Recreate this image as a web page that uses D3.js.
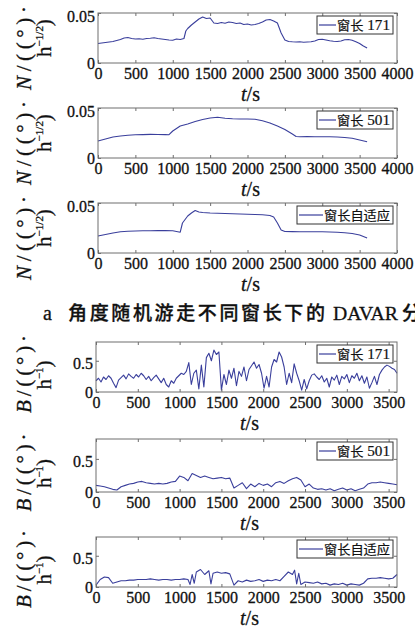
<!DOCTYPE html>
<html><head><meta charset="utf-8">
<script src="https://cdn.jsdelivr.net/npm/d3@7"></script>
<style>body{margin:0;background:#fff}svg{display:block}
.sf{font-family:"Liberation Serif","DejaVu Serif",serif}
.cj{font-family:"Noto Sans CJK SC","Noto Sans CJK JP",sans-serif}
text{stroke:#111;stroke-width:0.3px}
</style>
</head><body><svg id="c" width="415" height="628"></svg>
<script>
// ---------------- data ----------------
const xTicksN = [0,500,1000,1500,2000,2500,3000,3500,4000];
const xTicksB = [0,500,1000,1500,2000,2500,3000,3500];
const yTicksN = [0,0.05];
const yTickLabelsN = ["0","0.05"];
const yTicksB = [0,0.5];
const yTickLabelsB = ["0","0.5"];
const legendLabels = ["窗长 171","窗长 501","窗长自适应"];
const xLabel = "t/s";
const caption = ["a","角度随机游走不同窗长下的","DAVAR","分"];

// angle random walk N, window 171  [t (s), value]
const n171 = [[0,.0195],[50,.0200],[100,.0205],[150,.0210],[200,.0215],[250,.0225],[300,.0235],[350,.0250],[400,.0255],[450,.0245],[500,.0240],[550,.0242],[600,.0238],[650,.0245],[700,.0248],[750,.0252],[800,.0245],[850,.0240],[900,.0235],[950,.0230],[1000,.0228],[1050,.0240],[1100,.0235],[1150,.0245],[1175,.0320],[1200,.0345],[1250,.0380],[1300,.0410],[1350,.0440],[1400,.0460],[1450,.0445],[1500,.0450],[1550,.0400],[1600,.0395],[1650,.0405],[1700,.0398],[1750,.0410],[1800,.0405],[1850,.0395],[1900,.0400],[1950,.0385],[2000,.0390],[2050,.0380],[2100,.0385],[2150,.0395],[2200,.0410],[2250,.0430],[2300,.0435],[2350,.0420],[2400,.0400],[2450,.0300],[2500,.0230],[2550,.0215],[2600,.0212],[2650,.0210],[2700,.0212],[2750,.0208],[2800,.0210],[2850,.0212],[2900,.0220],[2950,.0235],[3000,.0238],[3050,.0230],[3100,.0222],[3150,.0218],[3200,.0215],[3250,.0220],[3300,.0232],[3350,.0235],[3400,.0228],[3450,.0212],[3500,.0195],[3550,.0170],[3600,.0150]];
// N, window 501
const n501 = [[0,.0170],[100,.0190],[200,.0210],[300,.0220],[400,.0228],[500,.0232],[600,.0234],[700,.0236],[800,.0235],[900,.0234],[950,.0233],[1000,.0270],[1100,.0320],[1200,.0340],[1300,.0365],[1400,.0385],[1500,.0400],[1600,.0408],[1700,.0398],[1800,.0392],[1900,.0390],[2000,.0390],[2100,.0388],[2200,.0372],[2300,.0350],[2400,.0320],[2500,.0285],[2600,.0240],[2650,.0215],[2700,.0213],[2800,.0214],[2900,.0213],[3000,.0213],[3100,.0212],[3200,.0210],[3300,.0205],[3400,.0197],[3500,.0180],[3600,.0163]];
// N, adaptive window
const nAdapt = [[0,.0170],[100,.0185],[200,.0200],[300,.0212],[400,.0218],[500,.0220],[600,.0222],[700,.0223],[800,.0224],[900,.0224],[1000,.0222],[1100,.0208],[1130,.0300],[1200,.0370],[1250,.0400],[1300,.0425],[1350,.0410],[1400,.0405],[1500,.0400],[1600,.0398],[1700,.0395],[1800,.0393],[1900,.0390],[2000,.0388],[2100,.0385],[2200,.0382],[2300,.0375],[2350,.0360],[2400,.0300],[2450,.0230],[2500,.0215],[2600,.0214],[2700,.0213],[2800,.0213],[2900,.0212],[3000,.0212],[3100,.0210],[3200,.0207],[3300,.0203],[3400,.0195],[3500,.0180],[3600,.0150]];
// rate random walk B, window 171
const b171 = [[0,.18],[30,.22],[60,.16],[90,.24],[120,.20],[150,.26],[180,.22],[210,.14],[240,.07],[270,.19],[300,.23],[330,.27],[360,.21],[390,.29],[420,.25],[450,.22],[480,.28],[510,.24],[540,.30],[570,.26],[600,.20],[630,.25],[660,.18],[690,.23],[720,.27],[750,.21],[780,.15],[810,.22],[840,.12],[870,.08],[900,.18],[930,.14],[960,.22],[990,.26],[1020,.30],[1050,.28],[1080,.33],[1110,.47],[1140,.12],[1170,.30],[1200,.35],[1230,.05],[1260,.43],[1290,.08],[1320,.55],[1350,.62],[1380,.50],[1410,.67],[1440,.60],[1470,.64],[1500,.03],[1530,.28],[1560,.12],[1590,.35],[1620,.22],[1650,.38],[1680,.10],[1710,.33],[1740,.25],[1770,.40],[1800,.18],[1830,.36],[1860,.42],[1890,.48],[1920,.38],[1950,.44],[1980,.30],[2010,.06],[2040,.25],[2070,.08],[2100,.40],[2130,.52],[2160,.48],[2190,.64],[2220,.56],[2250,.40],[2280,.12],[2310,.30],[2340,.15],[2370,.45],[2400,.30],[2430,.18],[2460,.03],[2490,.20],[2520,.05],[2550,.18],[2580,.27],[2610,.29],[2640,.24],[2670,.20],[2700,.26],[2730,.16],[2760,.22],[2790,.08],[2820,.24],[2850,.19],[2880,.27],[2910,.12],[2940,.25],[2970,.21],[3000,.28],[3030,.15],[3060,.26],[3090,.22],[3120,.30],[3150,.18],[3180,.26],[3210,.14],[3240,.24],[3270,.06],[3300,.15],[3330,.25],[3360,.12],[3390,.28],[3420,.35],[3450,.40],[3480,.43],[3510,.41],[3540,.38],[3570,.36],[3600,.30]];
// B, window 501
const b501 = [[0,.10],[50,.09],[100,.08],[150,.06],[200,.04],[250,.03],[300,.08],[350,.10],[400,.12],[450,.13],[500,.15],[550,.16],[600,.14],[650,.13],[700,.12],[750,.13],[800,.12],[850,.13],[900,.15],[950,.16],[1000,.24],[1050,.22],[1100,.17],[1150,.28],[1200,.25],[1250,.22],[1300,.24],[1350,.22],[1400,.20],[1450,.21],[1500,.22],[1550,.20],[1600,.21],[1650,.06],[1700,.10],[1750,.14],[1800,.05],[1850,.12],[1900,.08],[1950,.13],[2000,.10],[2050,.12],[2100,.08],[2150,.14],[2200,.16],[2250,.13],[2300,.17],[2350,.20],[2400,.22],[2450,.18],[2500,.08],[2550,.12],[2600,.06],[2650,.04],[2700,.05],[2750,.03],[2800,.05],[2850,.02],[2900,.04],[2950,.06],[3000,.03],[3050,.05],[3100,.02],[3150,.04],[3200,.06],[3250,.12],[3300,.14],[3350,.14],[3400,.15],[3450,.14],[3500,.13],[3550,.12],[3600,.11]];
// B, adaptive window
const bAdapt = [[0,.03],[50,.12],[100,.16],[150,.15],[200,.06],[250,.08],[300,.10],[350,.10],[400,.11],[450,.11],[500,.12],[550,.12],[600,.12],[650,.13],[700,.12],[750,.11],[800,.12],[850,.12],[900,.11],[950,.12],[1000,.12],[1050,.13],[1100,.12],[1125,.04],[1150,.20],[1175,.06],[1200,.24],[1250,.28],[1300,.20],[1350,.26],[1375,.05],[1400,.22],[1450,.24],[1500,.22],[1550,.23],[1600,.21],[1650,.03],[1700,.10],[1750,.08],[1800,.11],[1850,.09],[1900,.10],[1950,.12],[2000,.09],[2050,.11],[2100,.10],[2150,.12],[2200,.10],[2250,.17],[2300,.24],[2350,.20],[2375,.27],[2400,.05],[2425,.22],[2450,.04],[2500,.08],[2550,.07],[2600,.06],[2650,.08],[2700,.05],[2750,.06],[2800,.03],[2850,.05],[2900,.04],[2950,.06],[3000,.03],[3050,.05],[3100,.04],[3150,.03],[3200,.06],[3250,.13],[3300,.14],[3350,.14],[3400,.15],[3450,.14],[3500,.13],[3550,.14],[3600,.20]];

// ---------------- layout ----------------
const lineColor = "#3a3f9c";
const axisColor = "#6e6e6e";

const panels = [
  {data:n171, kind:"N", legend:0, top:13,  bottom:63,  left:98, right:397},
  {data:n501, kind:"N", legend:1, top:108, bottom:158, left:98, right:397},
  {data:nAdapt,kind:"N", legend:2, top:203, bottom:253, left:98, right:397},
  {data:b171, kind:"B", legend:0, top:342, bottom:392, left:96, right:397},
  {data:b501, kind:"B", legend:1, top:439, bottom:492, left:96, right:397},
  {data:bAdapt,kind:"B", legend:2, top:537, bottom:587, left:96, right:397}
];

const svg = d3.select("#c");

panels.forEach(p => {
  const isN = p.kind === "N";
  const x = d3.scaleLinear().domain([0, isN ? 4000 : 3600]).range([p.left, p.right]);
  const y = d3.scaleLinear().domain([0, isN ? 0.05 : 0.8]).range([p.bottom, p.top]);
  const xt = isN ? xTicksN : xTicksB;
  const yt = isN ? yTicksN : yTicksB;
  const ytl = isN ? yTickLabelsN : yTickLabelsB;
  const g = svg.append("g");

  g.append("path").datum(p.data)
    .attr("fill","none").attr("stroke",lineColor).attr("stroke-width",1.1)
    .attr("stroke-linejoin","round")
    .attr("d", d3.line().x(d=>x(d[0])).y(d=>y(d[1])));

  const bx = g.append("g").attr("transform",`translate(0,${p.bottom})`)
    .call(d3.axisBottom(x).tickValues(xt).tickSize(-3).tickSizeOuter(0).tickFormat(d3.format("d")));
  const tx = g.append("g").attr("transform",`translate(0,${p.top})`)
    .call(d3.axisTop(x).tickValues(xt).tickSize(-3).tickSizeOuter(0).tickFormat(""));
  const ly = g.append("g").attr("transform",`translate(${p.left},0)`)
    .call(d3.axisLeft(y).tickValues(yt).tickSize(-3).tickSizeOuter(0).tickFormat((d,i)=>ytl[i]));
  const ry = g.append("g").attr("transform",`translate(${p.right},0)`)
    .call(d3.axisRight(y).tickValues(yt).tickSize(-3).tickSizeOuter(0).tickFormat(""));
  [bx,tx,ly,ry].forEach(a => {
    a.attr("font-family",null).attr("font-size",null);
    a.select(".domain").remove();
    a.selectAll("line").attr("stroke",axisColor);
  });
  bx.selectAll("text").attr("class","sf").style("font-size","16px").attr("fill","#111")
    .attr("y",5).attr("dy","0.71em");
  ly.selectAll("text").attr("class","sf").style("font-size","16px").attr("fill","#111")
    .attr("x",-3).attr("dy","0.32em");
  ly.selectAll(".tick").filter(d=>d>0).select("text").attr("dy","0.5em");

  g.append("rect").attr("x",p.left).attr("y",p.top)
    .attr("width",p.right-p.left).attr("height",p.bottom-p.top)
    .attr("fill","none").attr("stroke",axisColor).attr("stroke-width",1);

  // legend
  const lab = legendLabels[p.legend];
  const wide = p.legend === 2;
  const lw = wide ? 96 : 76;
  const lx = p.right - 4 - lw, ly0 = p.top + 3;
  g.append("rect").attr("x",lx).attr("y",ly0).attr("width",lw).attr("height",18)
    .attr("fill","#fff").attr("stroke","#333").attr("stroke-width",1);
  const lineLen = wide ? 24 : 17;
  g.append("line").attr("x1",lx+2).attr("x2",lx+2+lineLen).attr("y1",ly0+9).attr("y2",ly0+9)
    .attr("stroke",lineColor).attr("stroke-width",1.2);
  const lt = g.append("text").attr("x",lx+3+lineLen).attr("y",ly0+14)
    .style("font-size","13px").style("stroke-width","0.2px").attr("fill","#111");
  const parts = lab.split(" ");
  lt.append("tspan").attr("class","cj").text(parts[0]);
  if (parts[1]) lt.append("tspan").attr("class","sf").style("font-size","15px").text(" "+parts[1]);
  lt.attr("textLength", lw - lineLen - 6).attr("lengthAdjust","spacingAndGlyphs");

  // x label
  const xl = g.append("text").attr("class","sf").attr("x",(p.left+p.right)/2+3).attr("y",p.bottom+38)
    .attr("text-anchor","middle").style("font-size","20px").attr("fill","#111");
  xl.append("tspan").style("font-style","italic").text(xLabel.split("/")[0]);
  xl.append("tspan").text("/"+xLabel.split("/")[1]);

  // y label (two lines, rotated)
  const cy = (p.top+p.bottom)/2;
  const l1 = g.append("text").attr("class","sf").attr("transform",`translate(31,${cy + (isN?10:7)}) rotate(-90)`)
    .attr("text-anchor","middle").style("font-size","21px").attr("fill","#111")
    .attr("textLength", isN?84:78).attr("lengthAdjust","spacing");
  l1.append("tspan").style("font-style","italic").text(isN?"N":"B");
  l1.append("tspan").text("/((°)·");
  const l2 = g.append("text").attr("class","sf").attr("transform",`translate(51,${cy + (isN?0:8)}) rotate(-90)`)
    .attr("text-anchor","middle").style("font-size","21px").attr("fill","#111");
  l2.append("tspan").text("h");
  l2.append("tspan").style("font-size","11px").attr("dy",-8).text(isN?"−1/2":"−1");
  l2.append("tspan").attr("dy",8).text(")");
});

// caption
const cap = svg.append("g").attr("fill","#111");
cap.append("text").attr("class","sf").attr("x",43).attr("y",320).style("font-size","20px").text(caption[0]);
cap.append("text").attr("class","cj").attr("x",68).attr("y",320).style("font-size","19px").style("font-weight","500")
  .attr("textLength",257).attr("lengthAdjust","spacing").text(caption[1]);
cap.append("text").attr("class","sf").attr("x",333).attr("y",320).style("font-size","19px")
  .attr("textLength",65).attr("lengthAdjust","spacingAndGlyphs").text(caption[2]);
cap.append("text").attr("class","cj").attr("x",402).attr("y",320).style("font-size","19px").style("font-weight","500").text(caption[3]);
</script></body></html>
